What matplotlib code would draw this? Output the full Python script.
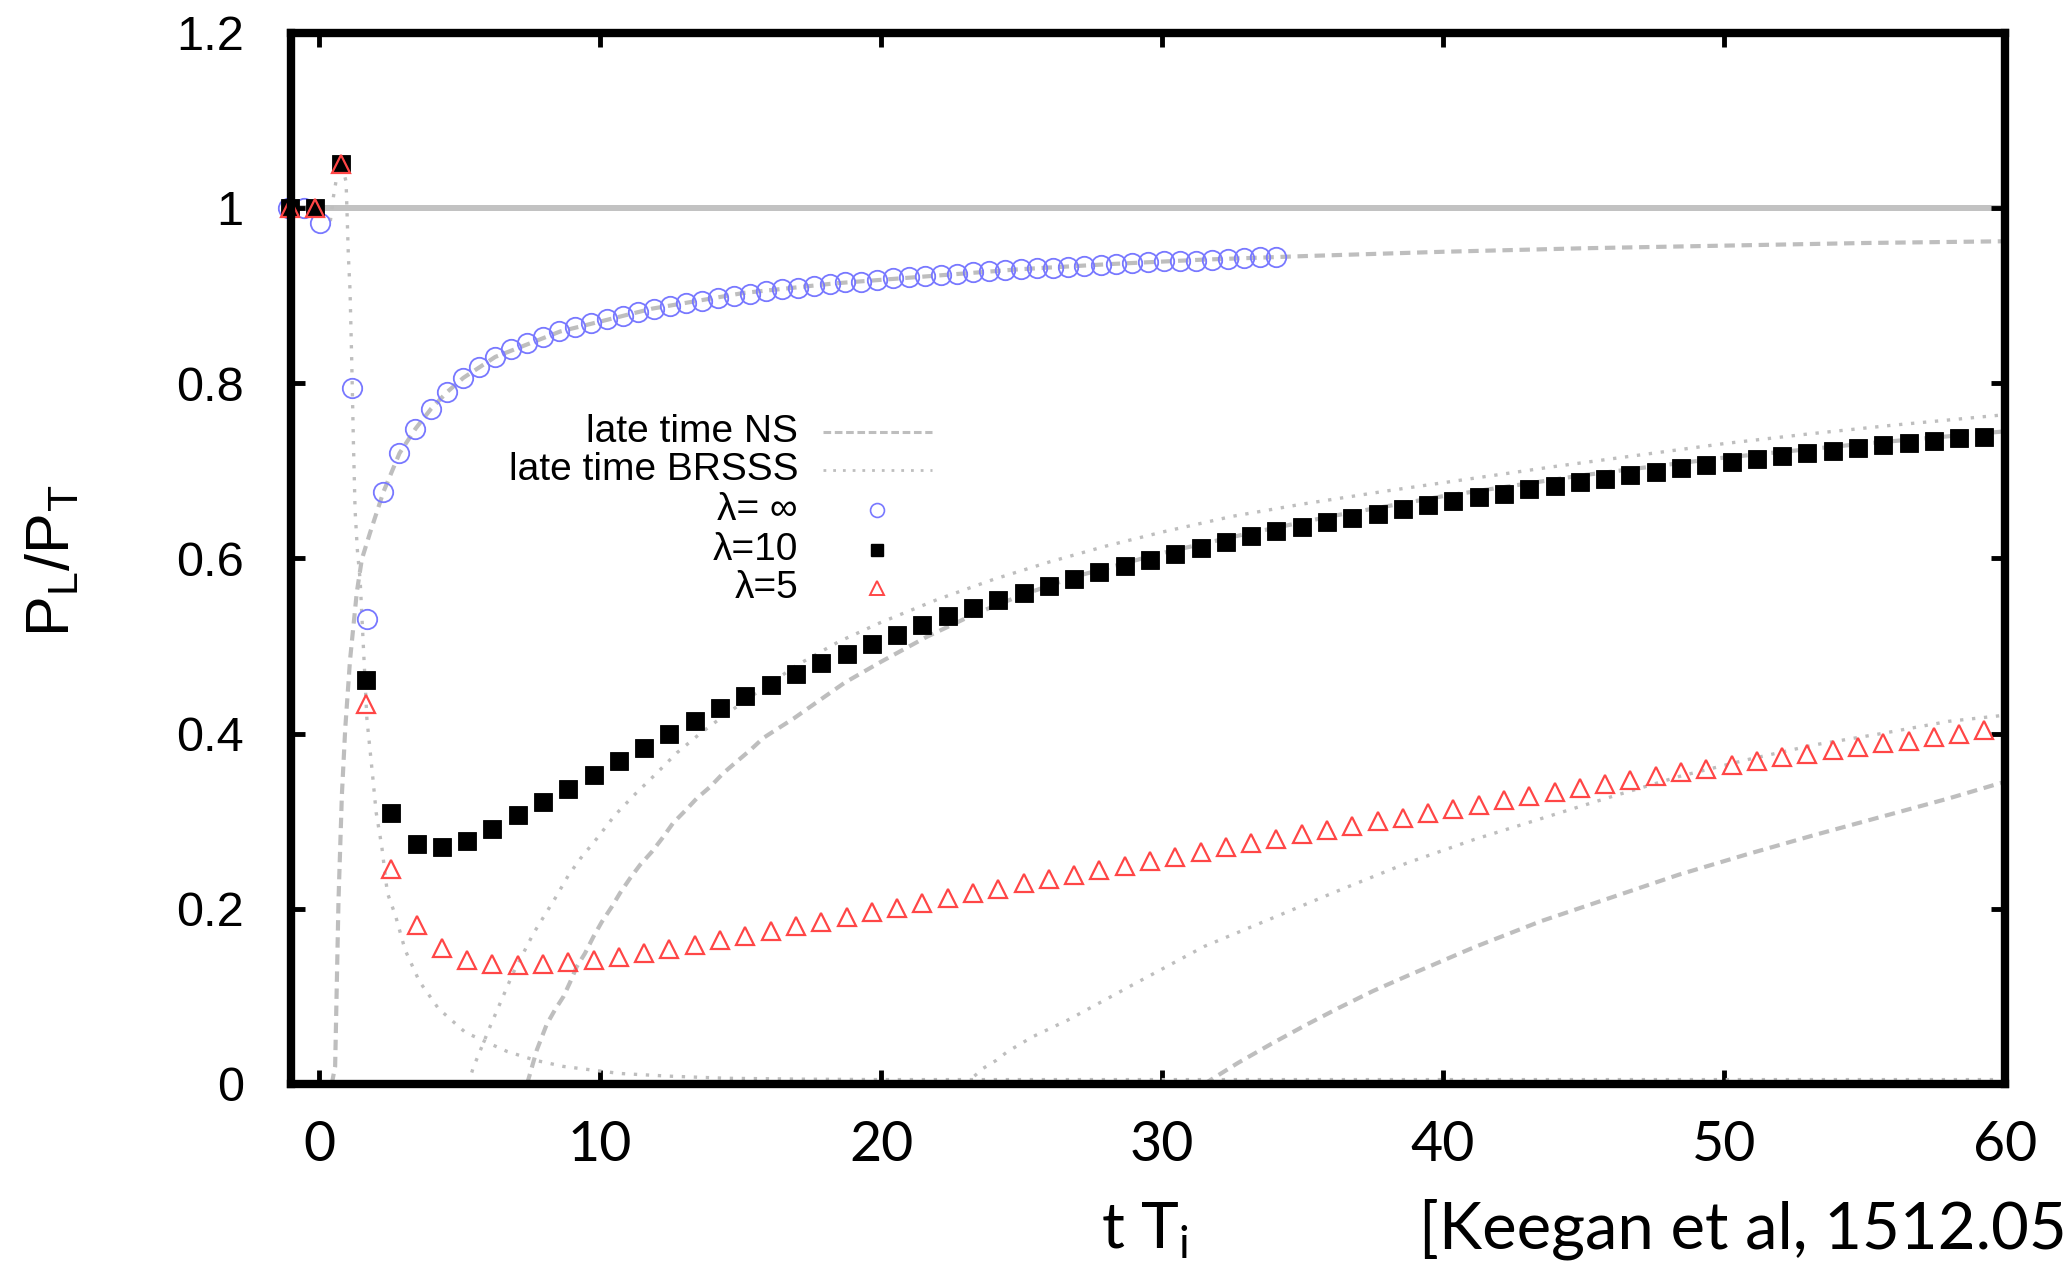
import matplotlib
matplotlib.use("Agg")
import matplotlib.pyplot as plt

plt.rcParams["font.family"] = ["Liberation Sans", "DejaVu Sans"]
plt.rcParams["mathtext.fontset"] = "custom"
plt.rcParams["mathtext.rm"] = "Liberation Sans"
plt.rcParams["mathtext.sf"] = "Lato"

# ---- data ----
# lambda = 10 and lambda = 5 share the same time samples
t_lam = [-1.03, -0.13, 0.77, 1.67, 2.57, 3.47, 4.37, 5.27, 6.17, 7.07,
         7.97, 8.87, 9.77, 10.67, 11.57, 12.47, 13.37, 14.27, 15.17, 16.07,
         16.97, 17.87, 18.77, 19.67, 20.57, 21.47, 22.37, 23.27, 24.17, 25.07,
         25.97, 26.87, 27.77, 28.67, 29.57, 30.47, 31.37, 32.27, 33.17, 34.07,
         34.97, 35.87, 36.77, 37.67, 38.57, 39.47, 40.37, 41.27, 42.17, 43.07,
         43.97, 44.87, 45.77, 46.67, 47.57, 48.47, 49.37, 50.27, 51.17, 52.07,
         52.97, 53.87, 54.77, 55.67, 56.57, 57.47, 58.37, 59.27]
lam10 = [1.0, 1.0, 1.05, 0.461, 0.309, 0.274, 0.271, 0.277, 0.291, 0.307,
         0.322, 0.337, 0.353, 0.369, 0.384, 0.399, 0.414, 0.429, 0.443, 0.456,
         0.468, 0.480, 0.491, 0.502, 0.513, 0.524, 0.534, 0.543, 0.552, 0.560,
         0.568, 0.576, 0.584, 0.591, 0.598, 0.605, 0.612, 0.619, 0.625, 0.631,
         0.636, 0.641, 0.646, 0.651, 0.656, 0.661, 0.665, 0.670, 0.674, 0.679,
         0.683, 0.687, 0.691, 0.695, 0.699, 0.703, 0.707, 0.710, 0.714, 0.717,
         0.720, 0.723, 0.726, 0.729, 0.732, 0.734, 0.737, 0.739]
lam5 = [1.0, 1.0, 1.05, 0.434, 0.245, 0.182, 0.155, 0.141, 0.137, 0.136,
        0.137, 0.139, 0.142, 0.145, 0.150, 0.154, 0.159, 0.164, 0.169, 0.175,
        0.180, 0.185, 0.191, 0.196, 0.201, 0.207, 0.212, 0.218, 0.223, 0.229,
        0.234, 0.239, 0.244, 0.249, 0.254, 0.259, 0.265, 0.270, 0.275, 0.280,
        0.285, 0.290, 0.295, 0.300, 0.304, 0.309, 0.314, 0.319, 0.324, 0.329,
        0.333, 0.338, 0.343, 0.347, 0.352, 0.356, 0.360, 0.364, 0.369, 0.373,
        0.377, 0.381, 0.385, 0.389, 0.392, 0.396, 0.400, 0.404]

t_inf = [-1.11, -0.54, 0.02, 1.16, 1.72,
         2.29, 2.86, 3.42, 3.99, 4.56, 5.13, 5.69, 6.26, 6.83, 7.39,
         7.96, 8.53, 9.09, 9.66, 10.23, 10.80, 11.36, 11.93, 12.50, 13.06,
         13.63, 14.20, 14.77, 15.33, 15.90, 16.47, 17.03, 17.60, 18.17, 18.73,
         19.30, 19.87, 20.44, 21.00, 21.57, 22.14, 22.70, 23.27, 23.84, 24.40,
         24.97, 25.54, 26.11, 26.67, 27.24, 27.81, 28.37, 28.94, 29.51, 30.07,
         30.64, 31.21, 31.78, 32.34, 32.91, 33.48, 34.04]
lam_inf = [1.0, 1.0, 0.983, 0.795, 0.531,
           0.676, 0.720, 0.748, 0.771, 0.790, 0.806, 0.819, 0.830, 0.839, 0.846,
           0.853, 0.859, 0.864, 0.869, 0.873, 0.877, 0.881, 0.885, 0.888, 0.891,
           0.894, 0.897, 0.900, 0.902, 0.905, 0.907, 0.909, 0.911, 0.913, 0.915,
           0.916, 0.918, 0.920, 0.921, 0.922, 0.924, 0.925, 0.927, 0.928, 0.929,
           0.930, 0.931, 0.932, 0.933, 0.934, 0.935, 0.936, 0.937, 0.938, 0.939,
           0.940, 0.940, 0.941, 0.942, 0.943, 0.944, 0.944]

# late time NS (dashed grey)
ns_inf_t = [0.45, 0.57, 0.69, 0.81, 0.93, 1.10, 1.34, 1.52, 1.81, 2.29, 2.86,
            3.43, 3.99, 4.56, 5.13, 6.27, 8.58, 11.84, 15.11, 18.38, 21.65,
            24.91, 28.18, 31.45, 35.0, 40.0, 45.0, 50.0, 55.0, 60.0]
ns_inf_y = [0.0, 0.02, 0.21, 0.33, 0.406, 0.484, 0.561, 0.599, 0.629, 0.676, 0.72,
            0.748, 0.771, 0.79, 0.806, 0.83, 0.859, 0.885, 0.903, 0.914, 0.922,
            0.930, 0.936, 0.941, 0.945, 0.950, 0.954, 0.957, 0.960, 0.962]
ns10_t = [7.40, 7.50, 7.75, 8.10, 8.40, 8.70, 8.93, 9.17, 9.46, 9.76, 10.06,
          10.41, 10.71, 11.07, 11.42, 11.84, 12.20, 12.60, 13.00, 13.44, 13.91,
          14.39, 14.86, 15.34, 15.81, 16.34, 16.88, 17.41, 18.70, 20.0, 21.6,
          23.3, 25.0, 27.0, 30.0, 33.0, 36.0, 40.0, 45.0, 50.0, 55.0, 60.0]
ns10_y = [0.0, 0.011, 0.039, 0.068, 0.085, 0.100, 0.116, 0.134, 0.149, 0.168, 0.185,
          0.202, 0.218, 0.235, 0.250, 0.265, 0.280, 0.298, 0.311, 0.326, 0.339,
          0.355, 0.368, 0.381, 0.395, 0.406, 0.417, 0.429, 0.458, 0.482, 0.510,
          0.536, 0.558, 0.580, 0.606, 0.628, 0.648, 0.671, 0.695, 0.715, 0.731, 0.745]
ns5_t = [31.5, 32.7, 33.9, 35.1, 36.3, 37.5, 38.7, 41.1, 43.5, 46.0, 48.4,
         50.8, 53.2, 55.6, 58.0, 60.0]
ns5_y = [0.0, 0.024, 0.046, 0.067, 0.087, 0.106, 0.123, 0.156, 0.186, 0.213, 0.239,
         0.262, 0.284, 0.305, 0.326, 0.345]

# late time BRSSS (dotted grey)
br_inf_t = [0.40, 0.51, 0.65, 0.80, 0.96, 1.04, 1.10, 1.16, 1.22, 1.28, 1.36,
            1.46, 1.70, 1.91, 2.03, 2.23, 2.43, 2.72, 3.06, 3.57, 4.25, 5.20,
            5.94, 6.70, 7.70, 8.70, 10.7, 12.4, 14.5, 17.2, 20.0, 30.0, 45.0, 60.0]
br_inf_y = [0.985, 1.013, 1.04, 1.05, 1.03, 0.946, 0.906, 0.826, 0.733, 0.655, 0.61,
            0.575, 0.417, 0.35, 0.31, 0.271, 0.218, 0.192, 0.153, 0.117, 0.086, 0.059,
            0.048, 0.037, 0.027, 0.020, 0.012, 0.009, 0.0065, 0.0055, 0.005, 0.005,
            0.005, 0.005]
br10_t = [5.30, 5.49, 6.09, 6.91, 7.63, 8.40, 8.87, 9.29, 9.88, 10.53, 11.25,
          12.02, 12.73, 13.56, 14.39, 15.5, 17.0, 18.5, 20.0, 22.0, 24.0, 26.0,
          28.0, 30.0, 32.5, 35.0, 38.0, 41.0, 44.0, 47.0, 50.0, 53.0, 56.0, 60.0]
br10_y = [0.0, 0.019, 0.066, 0.127, 0.172, 0.212, 0.238, 0.257, 0.280, 0.307, 0.331,
          0.355, 0.378, 0.400, 0.420, 0.445, 0.478, 0.505, 0.527, 0.553, 0.576, 0.596,
          0.614, 0.630, 0.648, 0.662, 0.677, 0.691, 0.705, 0.718, 0.731, 0.742, 0.752,
          0.764]
br5_t = [23.0, 23.64, 24.1, 24.5, 25.4, 26.65, 29.06, 31.5, 33.9, 36.3, 38.7,
         41.1, 43.5, 46.0, 48.4, 50.8, 53.2, 55.6, 58.0, 60.0]
br5_y = [0.0, 0.018, 0.027, 0.037, 0.054, 0.073, 0.115, 0.157, 0.189, 0.221, 0.252,
         0.279, 0.303, 0.328, 0.351, 0.370, 0.387, 0.400, 0.414, 0.421]

unity = 1.0
x_ticks = [0, 10, 20, 30, 40, 50, 60]
x_tick_labels = ["0", "10", "20", "30", "40", "50", "60"]
y_ticks = [0, 0.2, 0.4, 0.6, 0.8, 1.0, 1.2]
y_tick_labels = ["0", "0.2", "0.4", "0.6", "0.8", "1", "1.2"]
legend_labels = ["late time NS", "late time BRSSS", "λ= ∞", "λ=10", "λ=5"]

GREY = "#bebebe"
BLUE = "#7878ff"
RED = "#ff4646"
DASH = (0, (2.5, 1.6))
DOT = (0, (1.0, 2.6))

fig = plt.figure(figsize=(20.64, 12.65), dpi=100)
ax = fig.add_axes([0.1410, 0.1431, 0.8304, 0.8310])

ax.axhline(unity, color="#c2c2c2", lw=4.3, zorder=1)

for t, y in [(ns_inf_t, ns_inf_y), (ns10_t, ns10_y), (ns5_t, ns5_y)]:
    ax.plot(t, y, color=GREY, lw=3.0, ls=DASH, zorder=2)
for t, y in [(br_inf_t, br_inf_y), (br10_t, br10_y), (br5_t, br5_y)]:
    ax.plot(t, y, color=GREY, lw=2.4, ls=DOT, zorder=2)

ax.plot(t_inf, lam_inf, ls="none", marker="o", ms=14, mfc="none", mec=BLUE,
        mew=1.3, clip_on=False, zorder=4)
ax.plot(t_lam, lam10, ls="none", marker="s", ms=13.5, mfc="black", mec="black",
        mew=0.6, clip_on=False, zorder=5)
ax.plot(t_lam, lam5, ls="none", marker="^", ms=13, mfc="none", mec=RED,
        mew=1.6, clip_on=False, zorder=6)

ax.set_xlim(-1, 60)
ax.set_ylim(0, 1.2)
ax.set_xticks(x_ticks)
ax.set_xticklabels(x_tick_labels, fontfamily="Lato", fontsize=40)
ax.set_yticks(y_ticks)
ax.set_yticklabels(y_tick_labels, fontsize=35)
ax.tick_params(direction="in", length=10, width=3.5, top=True, right=True)
ax.tick_params(axis="x", pad=26)
ax.tick_params(axis="y", pad=34)
for sp in ax.spines.values():
    sp.set_linewidth(6)
    sp.set_zorder(7)

# legend drawn by hand: labels right-aligned, sample to the right
rows_y = [0.620, 0.584, 0.546, 0.508, 0.472]
for lab, ry in zip(legend_labels, rows_y):
    ax.text(0.2958, ry, lab, transform=ax.transAxes, ha="right", va="center",
            fontsize=28, zorder=8)
ax.plot([0.3104, 0.374], [rows_y[0]] * 2, transform=ax.transAxes, color=GREY,
        lw=2.2, ls=(0, (2.5, 1.2)))
ax.plot([0.3104, 0.374], [rows_y[1]] * 2, transform=ax.transAxes, color=GREY,
        lw=2.0, ls=(0, (1.0, 2.5)))
ax.plot([0.342], [rows_y[2]], transform=ax.transAxes, marker="o", ms=10,
        mfc="none", mec=BLUE, mew=1.2)
ax.plot([0.342], [rows_y[3]], transform=ax.transAxes, marker="s", ms=9,
        mfc="black", mec="black")
ax.plot([0.342], [rows_y[4]], transform=ax.transAxes, marker="^", ms=10,
        mfc="none", mec=RED, mew=1.4)

fig.text(0.0257, 0.557, r"P$_{\mathrm{L}}$/P$_{\mathrm{T}}$", rotation=90,
         ha="center", va="center", fontsize=44)
fig.text(0.5548, 0.0134, r"t T$_{\mathsf{i}}$", fontfamily="Lato", fontsize=46,
         ha="center", va="baseline")
fig.text(0.6875, 0.0134, "[Keegan et al, 1512.05094]", fontfamily="Lato",
         fontsize=47, ha="left", va="baseline")

fig.savefig("out.png", dpi=100)
